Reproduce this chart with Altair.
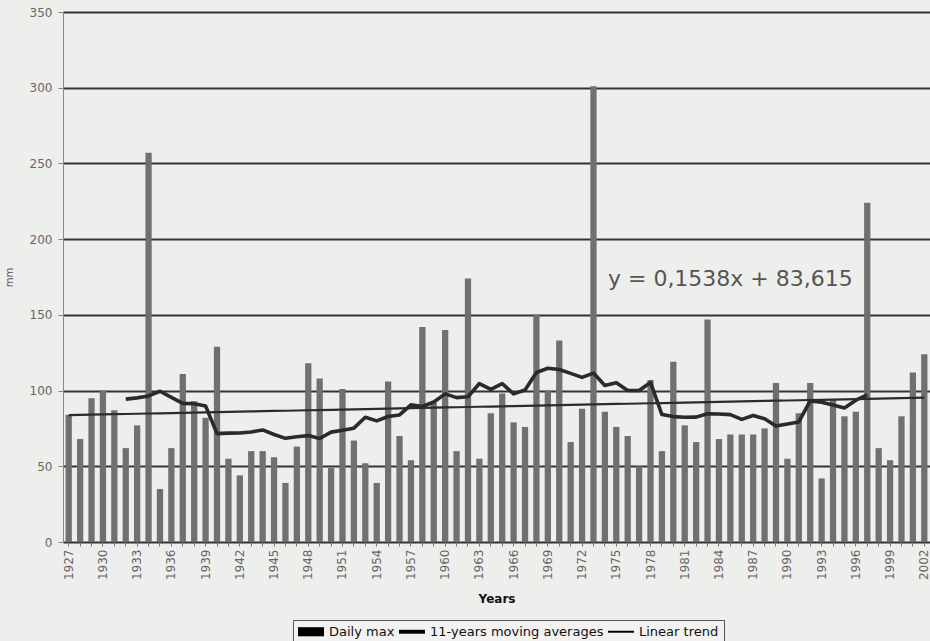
import altair as alt
import pandas as pd

# Annual daily-maximum precipitation (mm), 1927-2002
YEARS = list(range(1927, 2003))
DAILY_MAX = [
    84, 68, 95, 100, 87, 62, 77, 257, 35, 62,      # 1927-1936
    111, 93, 82, 129, 55, 44, 60, 60, 56, 39,      # 1937-1946
    63, 118, 108, 49, 101, 67, 52, 39, 106, 70,    # 1947-1956
    54, 142, 92, 140, 60, 174, 55, 85, 98, 79,     # 1957-1966
    76, 150, 100, 133, 66, 88, 301, 86, 76, 70,    # 1967-1976
    50, 107, 60, 119, 77, 66, 147, 68, 71, 71,     # 1977-1986
    71, 75, 105, 55, 85, 105, 42, 94, 83, 86,      # 1987-1996
    224, 62, 54, 83, 112, 124,                     # 1997-2002
]

# Linear trend fitted over the year index (1 = 1927)
TREND_SLOPE = 0.1538
TREND_INTERCEPT = 83.615
EQUATION = "y = 0,1538x + 83,615"

# Centred moving-average window (11 years)
MA_HALF = 5

SERIES = ["Daily max", "11-years moving averages", "Linear trend"]
LEGEND_SHAPES = [
    "M-1,-0.7H3V0.7H-1Z",
    "M-1,-0.3H3V0.3H-1Z",
    "M-1,-0.15H3V0.15H-1Z",
]

Y_TICKS = list(range(0, 351, 50))

df = pd.DataFrame({"year": YEARS, "value": DAILY_MAX})
keys = pd.DataFrame({"series": SERIES})
note = pd.DataFrame({"label": [EQUATION]})

FONT = "DejaVu Sans"

x_scale = alt.Scale(paddingInner=0.45, paddingOuter=0.225)
y_scale = alt.Scale(domain=[0, 350], nice=False, zero=True)

x_axis = alt.Axis(
    title="Years",
    labelAngle=270,
    labelExpr="(datum.value - 1927) % 3 == 0 ? datum.label : ''",
    labelOverlap=False,
    labelFont=FONT,
    labelFontSize=12,
    labelColor="#666666",
    labelPadding=3,
    tickSize=4,
    tickColor="#777777",
    domain=False,
    grid=False,
    titleFont=FONT,
    titleFontSize=12,
    titleFontWeight="bold",
    titleColor="#111111",
    titlePadding=14,
)

y_axis = alt.Axis(
    title="mm",
    values=Y_TICKS,
    grid=True,
    gridColor="#333333",
    gridWidth=2,
    domainColor="#888888",
    domainWidth=1,
    tickColor="#888888",
    tickSize=5,
    labelFont=FONT,
    labelFontSize=12,
    labelColor="#666666",
    labelPadding=6,
    titleFont=FONT,
    titleFontSize=10,
    titleFontWeight="normal",
    titleColor="#555555",
    titlePadding=15,
)

X = alt.X("year:O", scale=x_scale, axis=x_axis)

bars = alt.Chart(df).mark_bar(color="#707070").encode(
    x=X,
    y=alt.Y("value:Q", scale=y_scale, axis=y_axis),
)

trend = (
    alt.Chart(df)
    .transform_calculate(
        trend=f"{TREND_SLOPE} * (datum.year - {YEARS[0] - 1}) + {TREND_INTERCEPT}"
    )
    .mark_line(color="#2b2b2b", strokeWidth=2.2)
    .encode(x=X, y=alt.Y("trend:Q", scale=y_scale, axis=y_axis))
)

moving = (
    alt.Chart(df)
    .transform_window(
        ma="mean(value)",
        n="count()",
        frame=[-MA_HALF, MA_HALF],
        sort=[alt.SortField("year", order="ascending")],
    )
    .transform_filter(f"datum.n == {2 * MA_HALF + 1}")
    .mark_line(color="#2a2a2a", strokeWidth=3.6, strokeJoin="round")
    .encode(x=X, y=alt.Y("ma:Q", scale=y_scale, axis=y_axis))
)

label = alt.Chart(note).mark_text(
    font=FONT, fontSize=22, color="#555555", align="center", baseline="middle"
).encode(
    x=alt.X(datum=1985, type="ordinal"),
    y=alt.Y(datum=174, type="quantitative"),
    text="label:N",
)

legend_keys = (
    alt.Chart(keys)
    .transform_filter("false")
    .mark_point(filled=True, color="black", opacity=1)
    .encode(
        shape=alt.Shape(
            "series:N",
            scale=alt.Scale(domain=SERIES, range=LEGEND_SHAPES),
            legend=alt.Legend(
                title=None,
                orient="none",
                legendX=230,
                legendY=608,
                direction="horizontal",
                symbolSize=169,
                symbolStrokeWidth=0,
                labelFont=FONT,
                labelFontSize=13,
                labelColor="#111111",
                labelLimit=400,
                labelOffset=18,
                columnPadding=4,
                padding=5,
                strokeColor="#555555",
                fillColor="#f2f2f0",
            ),
        )
    )
)

chart = (
    alt.layer(bars, trend, moving, label, legend_keys)
    .properties(
        width=867,
        height=530,
        padding={"left": 63, "top": 12, "right": 0, "bottom": 99},
        autosize=alt.AutoSizeParams(type="none"),
        background="#eeeeec",
    )
    .configure_view(stroke=None)
)

chart.save("out.html", embed_options={"renderer": "svg", "actions": False})
